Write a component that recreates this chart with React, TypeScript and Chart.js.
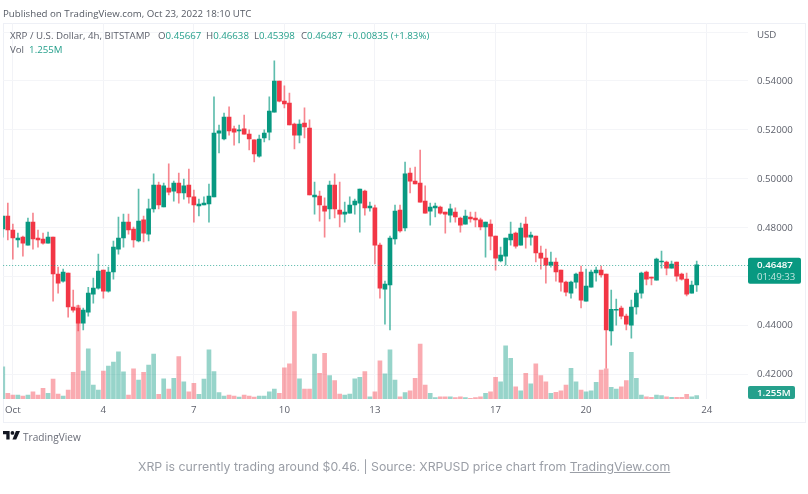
import React, { useEffect, useRef } from "react";
import { Chart, registerables } from "chart.js";

Chart.register(...registerables);

// Oct 2022, 4h candles. Index 0 is Oct 1 00:00.
const firstCandle = -2;
const opens = [.4795,.4848,.4791,.4750,.4762,.4729,.4823,.4758,.4754,.4737,.4762,.4611,.4582,.4615,.4476,.4472,.4410,.4455,.4529,.4553,.4627,.4541,.4619,.4713,.4758,.4823,.4795,.4746,.4832,.4774,.4877,.4975,.4885,.4962,.4950,.4983,.4942,.4975,.4926,.4889,.4893,.4897,.4926,.5187,.5163,.5253,.5204,.5196,.5204,.5183,.5159,.5093,.5167,.5191,.5273,.5400,.5318,.5310,.5224,.5179,.5228,.5208,.4926,.4930,.4889,.4877,.4975,.4872,.4856,.4860,.4893,.4901,.4950,.4881,.4881,.4729,.4549,.4566,.4754,.4872,.4799,.5024,.4991,.4983,.4909,.4868,.4881,.4885,.4864,.4852,.4864,.4840,.4815,.4844,.4840,.4832,.4803,.4815,.4766,.4664,.4684,.4750,.4778,.4729,.4815,.4762,.4766,.4697,.4676,.4647,.4660,.4627,.4578,.4533,.4578,.4619,.4500,.4557,.4615,.4627,.4611,.4378,.4463,.4472,.4439,.4402,.4476,.4533,.4619,.4598,.4586,.4660,.4660,.4635,.4660,.4611,.4590,.4533,.45667];
const highs = [.4848,.4901,.4815,.4778,.4766,.4840,.4860,.4791,.4778,.4782,.4762,.4639,.4631,.4615,.4545,.4484,.4472,.4557,.4594,.4692,.4627,.4639,.4746,.4844,.4856,.4856,.4803,.4958,.4848,.4917,.5020,.4987,.4983,.5061,.4991,.5024,.4999,.5040,.4954,.4917,.4926,.4979,.5335,.5220,.5269,.5294,.5216,.5220,.5261,.5200,.5159,.5179,.5200,.5335,.5482,.5400,.5380,.5351,.5228,.5241,.5290,.5241,.4987,.4950,.4922,.4991,.5020,.4987,.4905,.4926,.4917,.4958,.4954,.4905,.4893,.4737,.4582,.4766,.4893,.4893,.5069,.5044,.5048,.5118,.4971,.4901,.4901,.4889,.4864,.4897,.4881,.4844,.4872,.4864,.4864,.4840,.4823,.4832,.4766,.4721,.4758,.4823,.4782,.4819,.4844,.4782,.4766,.4725,.4713,.4701,.4676,.4627,.4582,.4582,.4615,.4643,.4631,.4627,.4639,.4643,.4611,.4545,.4508,.4480,.4447,.4504,.4545,.4619,.4623,.4598,.4676,.4705,.4664,.4664,.4660,.4615,.4615,.4582,.46638];
const lows = [.4762,.4750,.4672,.4721,.4684,.4729,.4713,.4721,.4733,.4737,.4500,.4533,.4578,.4435,.4455,.4378,.4382,.4439,.4492,.4549,.4512,.4537,.4590,.4692,.4721,.4774,.4721,.4742,.4742,.4746,.4864,.4877,.4885,.4934,.4909,.4901,.4917,.4901,.4823,.4848,.4893,.4823,.4926,.5106,.5159,.5179,.5138,.5147,.5183,.5118,.5069,.5089,.5151,.5159,.5273,.5314,.5290,.5220,.5122,.5147,.5167,.4934,.4856,.4827,.4762,.4836,.4840,.4803,.4823,.4860,.4856,.4782,.4852,.4868,.4652,.4512,.4406,.4382,.4733,.4782,.4787,.4942,.4979,.4905,.4860,.4811,.4844,.4856,.4778,.4823,.4823,.4782,.4815,.4823,.4803,.4791,.4680,.4709,.4627,.4660,.4647,.4729,.4717,.4729,.4717,.4729,.4660,.4631,.4574,.4639,.4582,.4541,.4521,.4512,.4553,.4472,.4500,.4557,.4582,.4598,.4226,.4320,.4402,.4427,.4382,.4349,.4447,.4512,.4566,.4566,.4586,.4635,.4607,.4635,.4582,.4586,.4521,.4533,.45398];
const closes = [.4848,.4791,.4758,.4758,.4737,.4823,.4754,.4750,.4737,.4762,.4611,.4574,.4619,.4476,.4463,.4410,.4463,.4533,.4553,.4623,.4541,.4619,.4721,.4758,.4823,.4791,.4750,.4827,.4778,.4877,.4975,.4893,.4971,.4946,.4983,.4942,.4971,.4926,.4893,.4897,.4901,.4930,.5187,.5196,.5253,.5196,.5191,.5200,.5183,.5163,.5102,.5163,.5187,.5277,.5400,.5318,.5306,.5220,.5179,.5224,.5212,.4934,.4934,.4893,.4868,.4975,.4877,.4856,.4864,.4893,.4909,.4958,.4881,.4889,.4729,.4553,.4570,.4758,.4868,.4787,.5020,.4991,.4979,.4905,.4860,.4885,.4889,.4860,.4856,.4877,.4844,.4811,.4848,.4836,.4832,.4803,.4823,.4766,.4676,.4688,.4758,.4774,.4725,.4799,.4762,.4770,.4697,.4676,.4647,.4660,.4619,.4578,.4537,.4578,.4611,.4504,.4562,.4619,.4627,.4607,.4382,.4467,.4467,.4439,.4406,.4476,.4533,.4615,.4590,.4594,.4672,.4664,.4635,.4652,.4602,.4590,.4529,.4566,.46487];
const volumes = [11.5,2.05,1.43,1.43,1.08,1.43,2.6,1.43,3.8,2.05,7.1,1.8,1.08,3.2,9.6,33.5,10,18,5,3.2,10,11.8,13.2,16.9,9.7,1.43,10.8,6.8,9.6,12.2,16.1,1.7,7.2,3.6,7.4,15.2,6.2,2.6,5.6,1.7,7.1,17.6,9.8,2.3,1.08,1.43,1.08,.7,1.43,1.08,.7,1.08,1.08,2.6,3.6,2.05,11.2,12.6,31.3,7.2,3.6,3.6,16.1,9.2,16.4,8.4,6.6,1.8,1.43,1.8,7.2,7.8,9.8,.8,2.6,13.7,9,17.6,6.8,.8,2.3,2.9,7.4,19.7,5,2.05,.5,.8,.8,.8,.5,.8,.5,.25,.5,.8,2.05,2.6,7.8,6.2,19.1,14.6,4.4,2.9,9.2,5.4,12.6,8.4,6.2,2.05,2.4,2.9,5,11,6.2,3.2,2.6,2.9,6,10.4,10.8,4.2,3.6,4.4,6.6,16.7,7.4,1.43,.8,.6,1.43,1.2,.8,.6,.6,.6,1.7,.8,1.255];

const xTickIndex = [0, 18, 36, 54, 72, 96, 114, 138];
const xTickLabels = ["Oct", "4", "7", "10", "13", "17", "20", "24"];
const priceTicks = [0.42, 0.44, 0.46, 0.48, 0.5, 0.52, 0.54, 0.56];
const hiddenPriceTicks = [0.46, 0.56];
const lastPrice = "0.46487";
const countdown = "01:49:33";
const lastVolume = "1.255M";

const GREEN = "#089981";
const RED = "#f23645";
const TEXT = "#5d606b";
const AXIS_FONT = "'Open Sans', sans-serif";
const FS = 9.7;

const up = opens.map((o, k) => closes[k] >= o);
const xAt = (k: number) => k + firstCandle;

const overlayPlugin = {
  id: "overlay",
  beforeDraw(chart: any) {
    const { ctx } = chart;
    ctx.save();
    ctx.fillStyle = "#ffffff";
    ctx.fillRect(0, 0, chart.width, chart.height);
    ctx.strokeStyle = "#eef0f6";
    ctx.lineWidth = 1;
    ctx.strokeRect(3.5, 23.5, 802, 399);
    ctx.restore();
  },
  afterDraw(chart: any) {
    const { ctx, chartArea, scales } = chart;
    const last = closes[closes.length - 1];
    const y = scales.y.getPixelForValue(last);
    ctx.save();
    ctx.strokeStyle = GREEN;
    ctx.globalAlpha = 0.7;
    ctx.lineWidth = 1;
    ctx.setLineDash([1, 2]);
    ctx.beginPath();
    ctx.moveTo(chartArea.left, Math.round(y) + 0.5);
    ctx.lineTo(chartArea.right, Math.round(y) + 0.5);
    ctx.stroke();
    ctx.setLineDash([]);
    ctx.globalAlpha = 1;

    ctx.fillStyle = GREEN;
    ctx.beginPath();
    ctx.roundRect(chartArea.right, y - 7, 53, 26, 2);
    ctx.fill();
    ctx.font = `600 ${FS}px ${AXIS_FONT}`;
    ctx.textBaseline = "middle";
    ctx.textAlign = "left";
    ctx.fillStyle = "#ffffff";
    ctx.fillText(lastPrice, chartArea.right + 9, y);
    ctx.font = `400 ${FS}px ${AXIS_FONT}`;
    ctx.fillStyle = "rgba(255,255,255,0.75)";
    ctx.fillText(countdown, chartArea.right + 9, y + 12);

    ctx.fillStyle = "#26a08c";
    ctx.beginPath();
    ctx.roundRect(chartArea.right, 386, 47, 13, 2);
    ctx.fill();
    ctx.font = `600 ${FS}px ${AXIS_FONT}`;
    ctx.fillStyle = "#ffffff";
    ctx.fillText(lastVolume, chartArea.right + 9, 393);

    ctx.font = `400 ${FS}px ${AXIS_FONT}`;
    ctx.fillStyle = TEXT;
    ctx.fillText("USD", chartArea.right + 9, 35);
    ctx.restore();
  },
};

const legendStyle: React.CSSProperties = {
  position: "absolute",
  fontFamily: AXIS_FONT,
  fontSize: FS,
  color: TEXT,
  whiteSpace: "pre",
  lineHeight: "14px",
};
const val: React.CSSProperties = { color: "#26a08c" };

export default function App() {
  const ref = useRef<HTMLCanvasElement>(null);

  useEffect(() => {
    const chart = new Chart(ref.current as HTMLCanvasElement, {
      type: "bar",
      data: {
        datasets: [
          {
            label: "Body",
            order: 0,
            grouped: false,
            barThickness: 4,
            backgroundColor: up.map((u) => (u ? GREEN : RED)),
            data: opens.map((o, k) => ({ x: xAt(k), y: [o, closes[k]] })),
          },
          {
            label: "Wick",
            order: 1,
            grouped: false,
            barThickness: 1,
            backgroundColor: up.map((u) => (u ? "rgba(8,153,129,0.65)" : "rgba(242,54,69,0.6)")),
            data: lows.map((l, k) => ({ x: xAt(k), y: [l, highs[k]] })),
          },
          {
            label: "Volume",
            order: 2,
            grouped: false,
            barThickness: 4,
            yAxisID: "vol",
            backgroundColor: up.map((u) => (u ? "rgba(8,153,129,0.42)" : "rgba(242,54,69,0.42)")),
            data: volumes.map((v, k) => ({ x: xAt(k), y: v })),
          },
        ],
      } as any,
      options: {
        animation: false,
        responsive: false,
        devicePixelRatio: 1,
        layout: { padding: { left: 3, top: 23, right: 0, bottom: 0 } },
        plugins: { legend: { display: false }, tooltip: { enabled: false } },
        scales: {
          x: {
            type: "linear",
            offset: false,
            min: -1.93,
            max: 146.2,
            afterFit(s: any) {
              s.height = 95;
            },
            afterBuildTicks(s: any) {
              s.ticks = xTickIndex.map((value) => ({ value }));
            },
            border: { display: false },
            grid: { color: "#f2f3f7", drawTicks: false, offset: false },
            ticks: {
              autoSkip: false,
              maxRotation: 0,
              padding: 5,
              color: TEXT,
              font: { family: AXIS_FONT, size: FS },
              callback: (v: any) => xTickLabels[xTickIndex.indexOf(v)] ?? "",
            },
          },
          y: {
            position: "right",
            min: 0.41,
            max: 0.56371,
            afterFit(s: any) {
              s.width = 60;
            },
            afterBuildTicks(s: any) {
              s.ticks = priceTicks.map((value) => ({ value }));
            },
            border: { display: false },
            grid: { color: "#f4f5f8", drawTicks: false },
            ticks: {
              autoSkip: false,
              padding: 9,
              crossAlign: "near",
              color: TEXT,
              font: { family: AXIS_FONT, size: FS },
              callback: (v: any) => (hiddenPriceTicks.includes(v) ? "" : Number(v).toFixed(5)),
            },
          },
          vol: { display: false, position: "left", min: 0, max: 134.8 },
        },
      } as any,
      plugins: [overlayPlugin],
    });
    return () => chart.destroy();
  }, []);

  const seg = (left: number, label: string, value: string) => (
    <div style={{ ...legendStyle, left, top: 29 }}>
      {label}
      <span style={val}>{value}</span>
    </div>
  );

  return (
    <div style={{ position: "absolute", left: 0, top: 0, width: 808, height: 494, background: "#fff", overflow: "hidden" }}>
      <canvas ref={ref} width={808} height={494} style={{ position: "absolute", left: 0, top: 0, width: 808, height: 494, filter: "blur(0.4px)" }} />
      <div style={{ ...legendStyle, left: 3, top: 7, color: "#555a64" }}>Published on TradingView.com, Oct 23, 2022 18:10 UTC</div>
      <div style={{ ...legendStyle, left: 10, top: 29 }}>XRP / U.S. Dollar, 4h, BITSTAMP</div>
      {seg(158, "O", "0.45667")}
      {seg(206, "H", "0.46638")}
      {seg(254, "L", "0.45398")}
      {seg(301, "C", "0.46487")}
      {seg(347, "", "+0.00835 (+1.83%)")}
      <div style={{ ...legendStyle, left: 10, top: 43 }}>
        {"Vol  "}
        <span style={val}>1.255M</span>
      </div>
      <svg viewBox="0 0 36 18" style={{ position: "absolute", left: 3, top: 431, width: 17, height: 8.5 }}>
        <path d="M14 18H7V7H0V0h14v18zM28 18h-8L27.4 0H36l-8 18z" fill="#131722" />
        <circle cx="20" cy="4" r="4" fill="#131722" />
      </svg>
      <div style={{ ...legendStyle, left: 23, top: 430, fontSize: 10.1, color: "#6a6d78" }}>TradingView</div>
      <div style={{ position: "absolute", left: 138, top: 458, fontFamily: "Inter, sans-serif", fontSize: 12.3, lineHeight: "18px", color: "#9a9ea6", whiteSpace: "pre" }}>
        {"XRP is currently trading around $0.46. | Source: XRPUSD price chart from "}
        <span style={{ textDecoration: "underline" }}>TradingView.com</span>
      </div>
    </div>
  );
}
